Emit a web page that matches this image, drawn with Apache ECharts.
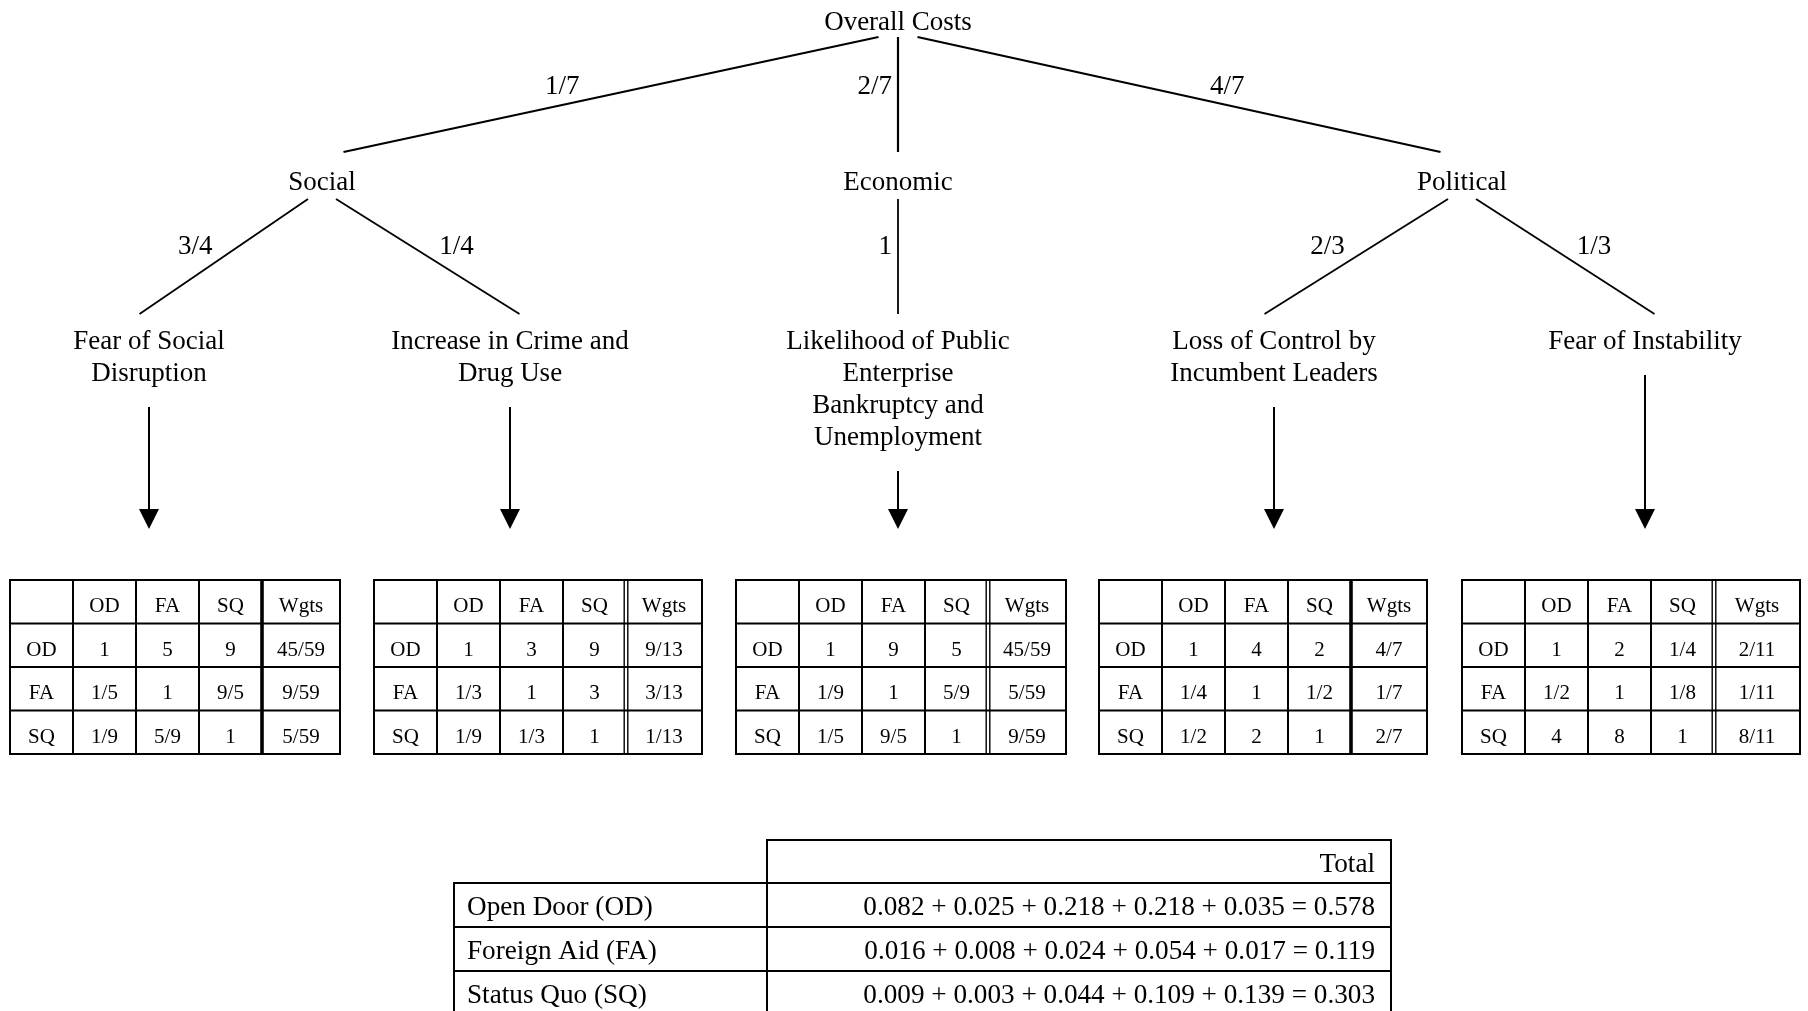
<!DOCTYPE html>
<html><head><meta charset="utf-8">
<script src="https://cdn.jsdelivr.net/npm/echarts@6/dist/echarts.min.js"></script>
<style>html,body{margin:0;padding:0;background:#fff;}#chart{width:1808px;height:1011px;}</style>
</head><body><div id="chart"></div>
<script>
// ---------------- DATA ----------------
const goal = 'Overall Costs';
const criteria = ['Social', 'Economic', 'Political'];
const criteriaWeights = ['1/7', '2/7', '4/7'];
const subCriteria = ['Fear of Social\nDisruption', 'Increase in Crime and\nDrug Use',
  'Likelihood of Public\nEnterprise\nBankruptcy and\nUnemployment',
  'Loss of Control by\nIncumbent Leaders', 'Fear of Instability'];
const subCriteriaParent = [0, 0, 1, 2, 2];
const subCriteriaWeights = ['3/4', '1/4', '1', '2/3', '1/3'];
const matrixColumns = ['', 'OD', 'FA', 'SQ', 'Wgts'];
const alternatives = ['OD', 'FA', 'SQ'];
const matrixSocialDisruption = [['1','5','9','45/59'], ['1/5','1','9/5','9/59'], ['1/9','5/9','1','5/59']];
const matrixCrimeDrugs = [['1','3','9','9/13'], ['1/3','1','3','3/13'], ['1/9','1/3','1','1/13']];
const matrixBankruptcy = [['1','9','5','45/59'], ['1/9','1','5/9','5/59'], ['1/5','9/5','1','9/59']];
const matrixLossOfControl = [['1','4','2','4/7'], ['1/4','1','1/2','1/7'], ['1/2','2','1','2/7']];
const matrixInstability = [['1','2','1/4','2/11'], ['1/2','1','1/8','1/11'], ['4','8','1','8/11']];
const totalHeader = 'Total';
const alternativeNames = ['Open Door (OD)', 'Foreign Aid (FA)', 'Status Quo (SQ)'];
const scoresOD = [0.082, 0.025, 0.218, 0.218, 0.035];
const scoresFA = [0.016, 0.008, 0.024, 0.054, 0.017];
const scoresSQ = [0.009, 0.003, 0.044, 0.109, 0.139];
const totals = [0.578, 0.119, 0.303];

// ---------------- LAYOUT / STYLE ----------------
const L = {
  family: '"Liberation Serif", "Times New Roman", serif',
  treeFont: 27, tableFont: 21, sumFont: 27.2, textDy: 3,
  goalX: 898, goalY: 20,
  criteriaX: [322, 898, 1462], criteriaY: 180,
  leafX: [149, 510, 898, 1274, 1645], leafY: 339, leafLine: 32,
  edge1: { y0: 37, y1: 152, s: 19.5, e: -21.5, labelY: 84, width: 2.2 },
  edge2: { y0: 199, y1: 314, s: 14, e: 9.5, labelY: 244, width: 1.8 },
  arrowGap: 36, arrowBase: 509, arrowTip: 529, arrowHalf: 10, arrowWidth: 2,
  tableLeft: [10, 374, 736, 1099, 1462],
  colW: 63, lastColW: [78, 76, 78, 76, 86],
  rowY: [580, 623.5, 667, 710.5, 754],
  divider: ['thick', 'double', 'double', 'thick', 'double'],
  tableLine: 2,
  sumX: [454, 767, 1391], sumY: [840, 883, 927, 971, 1015], sumPadL: 13, sumPadR: 16
};
const matrices = [matrixSocialDisruption, matrixCrimeDrugs, matrixBankruptcy, matrixLossOfControl, matrixInstability];
const scoreRows = [scoresOD, scoresFA, scoresSQ];

function font(size) { return size + 'px ' + L.family; }
function txt(p, text, size, align) {
  return { type: 'text', style: { text: text, x: p[0], y: p[1] + L.textDy, font: font(size), fill: '#000',
    align: align || 'center', verticalAlign: 'middle' } };
}
function ln(a, b, w) {
  return { type: 'line', shape: { x1: a[0], y1: a[1], x2: b[0], y2: b[1] }, style: { stroke: '#000', lineWidth: w } };
}

// edges: root -> criteria, criteria -> subcriteria
const edges = [];
criteria.forEach((c, i) => edges.push({ px: L.goalX, cx: L.criteriaX[i], w: criteriaWeights[i], lv: L.edge1 }));
subCriteria.forEach((s, i) => edges.push({ px: L.criteriaX[subCriteriaParent[i]], cx: L.leafX[i], w: subCriteriaWeights[i], lv: L.edge2 }));

function renderEdge(params, api) {
  const e = edges[params.dataIndex];
  const lv = e.lv;
  const d = e.cx - e.px;
  let sx, ex, side;
  if (Math.abs(d) < 10) { sx = ex = e.cx; side = -1; }
  else { side = Math.sign(d); sx = e.px + side * lv.s; ex = e.cx + side * lv.e; }
  const dy = lv.y1 - lv.y0;
  const slope = Math.abs(ex - sx) / dy;
  const lx = sx + (ex - sx) * (lv.labelY - lv.y0) / dy;
  const ax = lx + side * (6 + 16 * slope);
  return { type: 'group', children: [
    ln(api.coord([sx, lv.y0]), api.coord([ex, lv.y1]), lv.width),
    txt(api.coord([ax, lv.labelY]), e.w, L.treeFont, side < 0 ? 'right' : 'left')
  ] };
}

function renderNodes(params, api) {
  const ch = [txt(api.coord([L.goalX, L.goalY]), goal, L.treeFont)];
  criteria.forEach((c, i) => ch.push(txt(api.coord([L.criteriaX[i], L.criteriaY]), c, L.treeFont)));
  return { type: 'group', children: ch };
}

function renderLeaf(params, api) {
  const i = params.dataIndex;
  const lines = subCriteria[i].split('\n');
  const x = L.leafX[i];
  const ch = lines.map((t, k) => txt(api.coord([x, L.leafY + k * L.leafLine]), t, L.treeFont));
  const top = L.leafY + (lines.length - 1) * L.leafLine + L.arrowGap;
  ch.push(ln(api.coord([x, top]), api.coord([x, L.arrowBase + 2]), L.arrowWidth));
  ch.push({ type: 'polygon', shape: { points: [api.coord([x - L.arrowHalf, L.arrowBase]), api.coord([x + L.arrowHalf, L.arrowBase]), api.coord([x, L.arrowTip])] },
    style: { fill: '#000' } });
  return { type: 'group', children: ch };
}

function renderMatrix(params, api) {
  const t = params.dataIndex;
  const m = matrices[t];
  const xs = [L.tableLeft[t]];
  for (let c = 0; c < 4; c++) xs.push(xs[c] + L.colW);
  xs.push(xs[4] + L.lastColW[t]);
  const ys = L.rowY;
  const ch = [];
  const lw = L.tableLine;
  ys.forEach(y => ch.push(ln(api.coord([xs[0], y]), api.coord([xs[5], y]), lw)));
  xs.forEach((x, c) => {
    if (c === 4) {
      if (L.divider[t] === 'double') {
        ch.push(ln(api.coord([x - 1.8, ys[0]]), api.coord([x - 1.8, ys[4]]), 1.4));
        ch.push(ln(api.coord([x + 1.8, ys[0]]), api.coord([x + 1.8, ys[4]]), 1.4));
      } else {
        ch.push(ln(api.coord([x, ys[0]]), api.coord([x, ys[4]]), 3.6));
      }
    } else {
      ch.push(ln(api.coord([x, ys[0] - lw / 2]), api.coord([x, ys[4] + lw / 2]), lw));
    }
  });
  for (let r = 0; r < 4; r++) {
    const yc = (ys[r] + ys[r + 1]) / 2 + 2;
    for (let c = 0; c < 5; c++) {
      let s;
      if (r === 0) s = matrixColumns[c];
      else if (c === 0) s = alternatives[r - 1];
      else s = m[r - 1][c - 1];
      if (!s) continue;
      ch.push(txt(api.coord([(xs[c] + xs[c + 1]) / 2, yc]), s, L.tableFont));
    }
  }
  return { type: 'group', children: ch };
}

function renderSummary(params, api) {
  const X = L.sumX, Y = L.sumY, ch = [];
  const lw = L.tableLine;
  ch.push(ln(api.coord([X[1] - lw / 2, Y[0]]), api.coord([X[2] + lw / 2, Y[0]]), lw));
  for (let r = 1; r < Y.length; r++) ch.push(ln(api.coord([X[0] - lw / 2, Y[r]]), api.coord([X[2] + lw / 2, Y[r]]), lw));
  ch.push(ln(api.coord([X[0], Y[1]]), api.coord([X[0], Y[4]]), lw));
  ch.push(ln(api.coord([X[1], Y[0]]), api.coord([X[1], Y[4]]), lw));
  ch.push(ln(api.coord([X[2], Y[0]]), api.coord([X[2], Y[4]]), lw));
  ch.push(txt(api.coord([X[2] - L.sumPadR, (Y[0] + Y[1]) / 2]), totalHeader, L.sumFont, 'right'));
  alternativeNames.forEach((n, r) => {
    const yc = (Y[r + 1] + Y[r + 2]) / 2;
    ch.push(txt(api.coord([X[0] + L.sumPadL, yc]), n, L.sumFont, 'left'));
    const s = scoreRows[r].map(v => v.toFixed(3)).join(' + ') + ' = ' + totals[r].toFixed(3);
    ch.push(txt(api.coord([X[2] - L.sumPadR, yc]), s, L.sumFont, 'right'));
  });
  return { type: 'group', children: ch };
}

const chart = echarts.init(document.getElementById('chart'), null, { renderer: 'canvas' });
chart.setOption({
  backgroundColor: '#fff',
  animation: false,
  grid: { left: 0, right: 0, top: 0, bottom: 0 },
  xAxis: { type: 'value', min: 0, max: 1808, show: false },
  yAxis: { type: 'value', min: 0, max: 1011, inverse: true, show: false },
  series: [
    { type: 'custom', clip: false, renderItem: renderNodes, data: [[0, 0]] },
    { type: 'custom', clip: false, renderItem: renderEdge, data: edges.map((e, i) => [i, 0]) },
    { type: 'custom', clip: false, renderItem: renderLeaf, data: subCriteria.map((s, i) => [i, 0]) },
    { type: 'custom', clip: false, renderItem: renderMatrix, data: matrices.map((m, i) => [i, 0]) },
    { type: 'custom', clip: false, renderItem: renderSummary, data: [[0, 0]] }
  ]
});
</script></body></html>
